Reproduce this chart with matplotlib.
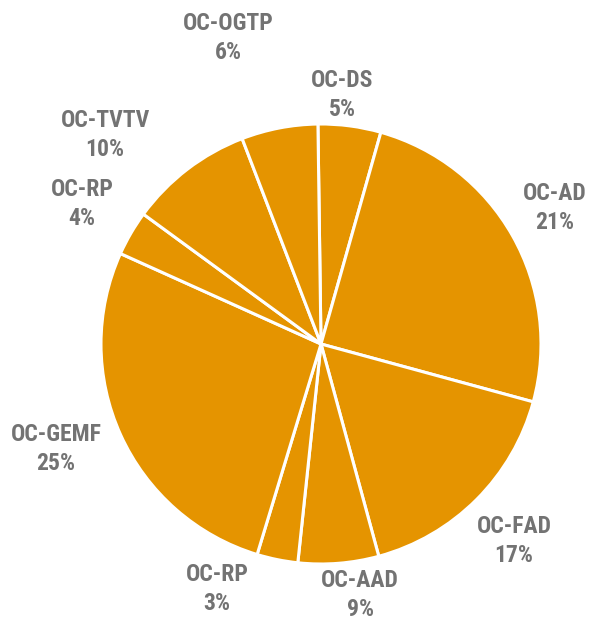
import matplotlib
matplotlib.use("Agg")
import matplotlib.pyplot as plt
from matplotlib import font_manager

# ---- data ----
categories = ["OC-DS", "OC-AD", "OC-FAD", "OC-AAD", "OC-RP", "OC-GEMF", "OC-RP", "OC-TVTV", "OC-OGTP"]
slice_values = [4.6, 24.8, 16.5, 5.9, 3.0, 27.0, 3.3, 9.1, 5.6]   # drawn shares
label_pcts = ["5%", "21%", "17%", "9%", "3%", "25%", "4%", "10%", "6%"]  # printed labels

# ---- layout (pixel coords, y from top) ----
label_xy = [(342, 95), (555, 208), (514, 541), (360, 595), (217, 589),
            (56, 449), (82, 204), (105, 135), (228, 38)]

W, H = 599, 621
fig = plt.figure(figsize=(W / 100, H / 100), dpi=100)
ax = fig.add_axes([0, 0, 1, 1])

names = {f.name for f in font_manager.fontManager.ttflist}
fam = "Roboto Condensed" if "Roboto Condensed" in names else "DejaVu Sans"

ax.pie(slice_values, colors=["#E59400"] * len(slice_values), startangle=90.8,
       counterclock=False, center=(321, H - 344), radius=220, frame=True,
       wedgeprops=dict(edgecolor="white", linewidth=2.2))
ax.set_xlim(0, W)
ax.set_ylim(0, H)
ax.set_aspect("equal")
ax.axis("off")

for name, pct, (px, py) in zip(categories, label_pcts, label_xy):
    ax.text(px, H - py, f"{name}\n{pct}", ha="center", va="center",
            fontsize=17, fontweight="bold", color="#737373", family=fam,
            linespacing=1.3)

fig.savefig("out.png", dpi=100)
